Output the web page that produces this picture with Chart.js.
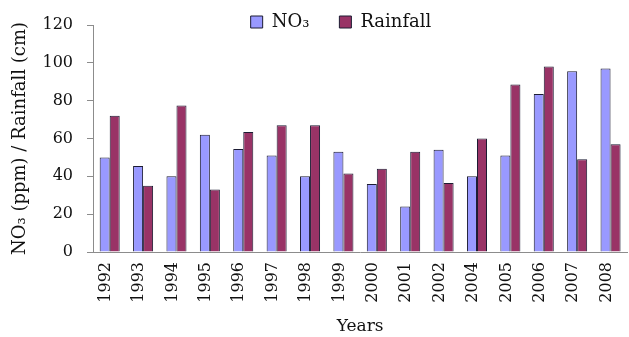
<!DOCTYPE html>
<html>
<head>
<meta charset="utf-8">
<script src="https://cdn.jsdelivr.net/npm/chart.js@4"></script>
<style>
  html, body { margin: 0; padding: 0; overflow: hidden; background: #fff; }
</style>
</head>
<body>
<canvas id="chart" width="640" height="337"></canvas>
<script>
var years = ["1992", "1993", "1994", "1995", "1996", "1997", "1998", "1999",
  "2000", "2001", "2002", "2004", "2005", "2006", "2007", "2008"];
var no3Values = [50, 45.5, 40, 62, 54.5, 51, 40, 53, 36, 24, 54, 40, 51, 83.5, 95.5, 97];
var rainValues = [72, 35, 77.5, 33, 63.5, 67, 67, 41.5, 44, 53, 36.5, 60, 88.5, 98, 49, 57];
var seriesNames = ["NO\u2083", "Rainfall"];
var yTicks = [0, 20, 40, 60, 80, 100, 120];

Chart.defaults.font.family = "'DejaVu Serif', serif";
Chart.defaults.color = "#111";

// the legend sits over the top of the plot, like the original
var legendShift = {
  id: "legendShift",
  afterLayout: function (chart) {
    var lg = chart.legend;
    var dy = 22 - 9 - lg.options.labels.padding - lg.top;
    lg.top += dy;
    lg.bottom += dy;
    lg.left += 25;
    lg.right += 25;
  }
};

var ctx = document.getElementById("chart").getContext("2d");
var myChart = new Chart(ctx, {
  type: "bar",
  data: {
    labels: years,
    datasets: [
      {
        label: seriesNames[0],
        data: no3Values,
        backgroundColor: "#9999ff",
        borderColor: "#1c1c33",
        borderWidth: 1,
        categoryPercentage: 0.6,
        barPercentage: 1.0
      },
      {
        label: seriesNames[1],
        data: rainValues,
        backgroundColor: "#993366",
        borderColor: "#1c1c33",
        borderWidth: 1,
        categoryPercentage: 0.6,
        barPercentage: 1.0
      }
    ]
  },
  options: {
    responsive: false,
    animation: false,
    layout: { padding: { top: -33, right: 8, bottom: 0, left: 0 } },
    plugins: {
      tooltip: { enabled: false },
      legend: {
        position: "top",
        labels: {
          boxWidth: 12,
          boxHeight: 12,
          padding: 30,
          color: "#111",
          font: { size: 18 }
        }
      }
    },
    scales: {
      x: {
        grid: { display: false, drawTicks: false },
        border: { display: true, color: "#8c8c8c", width: 1 },
        ticks: {
          minRotation: 90,
          maxRotation: 90,
          padding: 10,
          labelOffset: -4,
          font: { size: 16 },
          color: "#111"
        },
        title: {
          display: true,
          text: "Years",
          font: { size: 17 },
          padding: { top: 0, bottom: 0 },
          color: "#111"
        },
        afterFit: function (scale) { scale.height = 85; }
      },
      y: {
        min: 0,
        max: 120,
        afterBuildTicks: function (scale) {
          scale.ticks = yTicks.map(function (v) { return { value: v }; });
        },
        grid: {
          drawOnChartArea: false,
          drawTicks: true,
          tickLength: 6,
          color: "#8c8c8c"
        },
        border: { display: true, color: "#8c8c8c", width: 1 },
        ticks: { padding: 14, font: { size: 16 }, color: "#111" },
        title: {
          display: true,
          text: "NO\u2083 (ppm) / Rainfall (cm)",
          font: { size: 18 },
          padding: { top: 10, bottom: 0 },
          color: "#111"
        },
        afterFit: function (scale) { scale.width = 93; }
      }
    }
  },
  plugins: [legendShift]
});
</script>
</body>
</html>
